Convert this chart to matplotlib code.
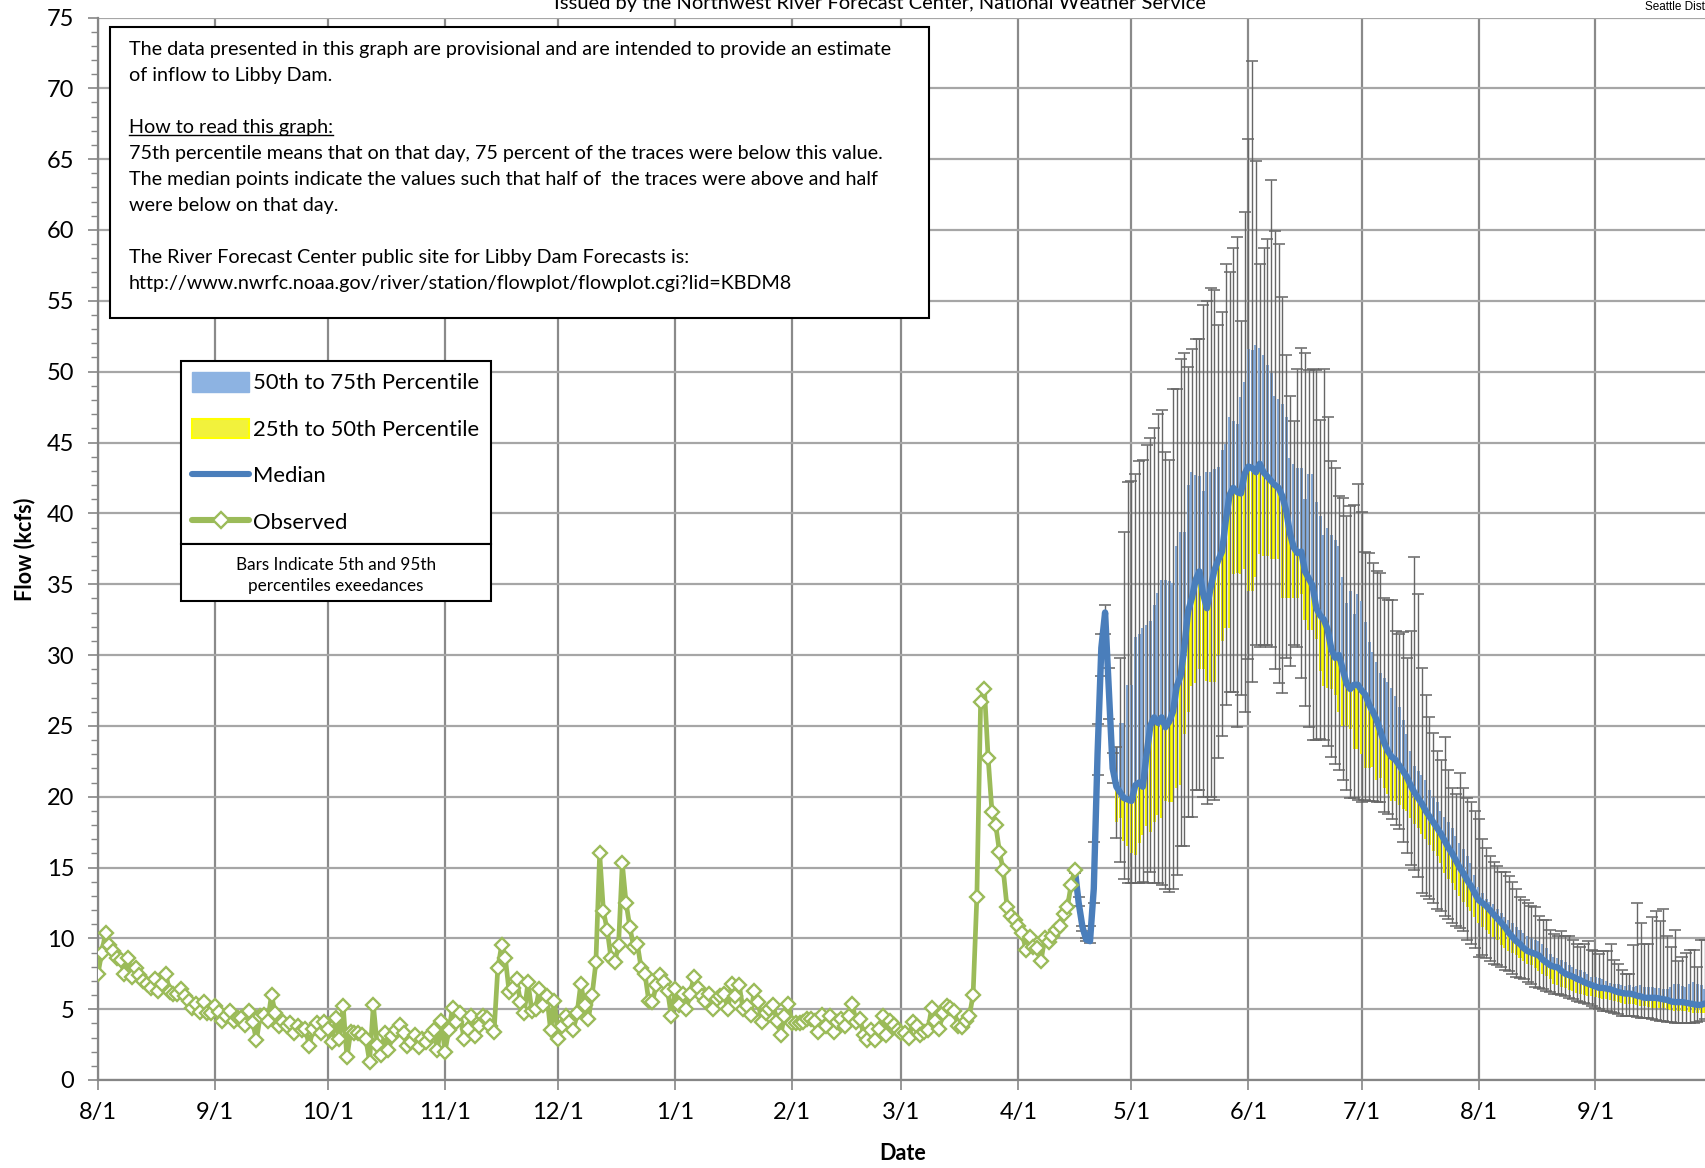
import numpy as np
import pandas as pd
import matplotlib
matplotlib.use("Agg")
import matplotlib.pyplot as plt
from matplotlib.patches import Rectangle, Patch
from matplotlib.lines import Line2D

plt.rcParams['font.family'] = ['Lato', 'DejaVu Sans']

# ---------------- data ----------------
obs_start = "2023-08-01"
observed = [
    7.5, 9.0, 10.4, 9.5, 9.1, 8.6, 8.5, 7.5, 8.6, 7.3,
    7.9, 7.4, 7.0, 6.8, 6.5, 7.1, 6.3, 6.8, 7.5, 6.2,
    6.1, 6.1, 6.4, 5.9, 5.6, 5.1, 5.4, 4.8, 5.5, 4.75,
    4.7, 5.2, 4.8, 4.2, 4.5, 4.9, 4.2, 4.4, 4.4, 3.9,
    4.9, 4.1, 2.8, 4.5, 4.6, 4.2, 6.0, 4.7, 3.8, 4.1,
    3.8, 4.0, 3.3, 3.8, 3.5, 3.6, 2.4, 3.6, 4.0, 3.3,
    4.1, 3.6, 2.7, 4.35, 2.9, 5.2, 1.6, 3.4, 3.3, 3.3,
    3.2, 2.9, 1.3, 5.3, 2.5, 1.8, 3.3, 2.1, 3.1, 3.5,
    3.9, 3.3, 2.4, 2.7, 3.2, 2.35, 2.9, 2.7, 3.2, 3.5,
    2.1, 4.2, 2.0, 3.5, 5.1, 4.1, 4.7, 2.9, 3.6, 4.5,
    3.1, 3.8, 4.5, 4.4, 3.8, 3.4, 7.9, 9.5, 8.6, 6.2,
    6.5, 7.1, 5.5, 4.75, 6.9, 4.9, 5.0, 6.4, 5.3, 5.9,
    3.5, 5.6, 2.9, 3.8, 4.5, 4.1, 3.5, 4.7, 6.8, 5.3,
    4.3, 6.0, 8.3, 16.0, 11.9, 10.6, 8.6, 8.3, 9.5, 15.3,
    12.5, 10.8, 9.4, 9.6, 7.9, 7.5, 5.6, 5.5, 6.7, 7.4,
    6.9, 6.3, 4.5, 6.4, 5.3, 6.1, 5.0, 6.1, 7.3, 6.5,
    5.9, 5.6, 6.1, 5.0, 5.75, 5.9, 6.1, 5.0, 6.8, 5.9,
    6.7, 5.0, 5.2, 4.6, 6.3, 5.5, 4.1, 4.7, 5.0, 5.3,
    4.2, 3.2, 4.5, 5.4, 4.0, 4.0, 4.0, 4.1, 4.3, 4.3,
    4.2, 3.4, 4.6, 3.8, 4.5, 3.4, 4.1, 4.3, 3.8, 4.5,
    5.35, 4.1, 4.3, 3.2, 2.8, 3.5, 2.8, 3.6, 4.5, 3.2,
    4.2, 3.9, 3.5, 3.3, 3.3, 3.0, 4.1, 3.8, 3.2, 3.4,
    3.5, 5.05, 4.2, 3.6, 4.7, 5.2, 5.05, 4.9, 3.8, 3.75,
    4.2, 4.5, 6.0, 12.9, 26.7, 27.6, 22.7, 18.95, 18.0, 16.1,
    14.8, 12.2, 11.6, 11.3, 10.9, 10.4, 9.2, 10.1, 9.4, 9.3,
    8.4, 10.0, 9.75, 10.2, 10.6, 10.9, 11.7, 12.2, 13.8, 14.85,
]

fc_start = "2024-04-16"
median = [
    14.8, 12.5, 10.8, 9.9, 9.8, 13.5, 23.0, 30.5, 33.0, 27.5, 22.0,
    20.7, 20.3, 19.9, 19.8, 19.7, 20.8, 21.0, 20.7, 23.0, 25.0,
    25.6, 25.2, 25.6, 24.9, 25.3, 26.0, 27.8, 28.5, 30.5, 33.1,
    34.0, 35.3, 35.9, 34.3, 33.3, 34.8, 36.0, 36.7, 37.3, 39.5,
    41.3, 41.8, 41.5, 41.4, 42.8, 43.3, 43.2, 42.9, 43.5, 42.9,
    42.6, 42.3, 42.0, 41.8, 41.2, 40.2, 38.6, 37.6, 37.2, 37.3,
    35.9, 35.4, 34.9, 33.3, 32.8, 32.5, 31.8, 30.4, 29.8, 30.0,
    29.0, 28.0, 27.6, 27.9, 27.9, 27.5, 27.2, 26.5, 26.0, 25.4,
    24.6, 23.8, 23.2, 22.8, 22.6, 22.2, 21.8, 21.4, 20.8,
    20.3, 19.9, 19.5, 19.0, 18.6, 18.2, 17.8, 17.4, 16.9, 16.4,
    16.0, 15.5, 15.0, 14.6, 14.1, 13.7, 13.2, 12.7, 12.5, 12.3,
    12.0, 11.7, 11.4, 11.1, 10.8, 10.4, 10.1, 9.8, 9.6, 9.3,
    9.1, 9.0, 8.9, 8.8, 8.5, 8.3, 8.1, 8.0, 7.95, 7.7,
    7.5, 7.4, 7.3, 7.15, 7.05, 6.9, 6.8, 6.7, 6.6, 6.5,
    6.5, 6.45, 6.4, 6.3, 6.2, 6.15, 6.1, 6.1, 6.05, 5.95,
    5.9, 5.8, 5.8, 5.8, 5.8, 5.75, 5.7, 5.65, 5.55, 5.5,
    5.5, 5.5, 5.45, 5.4, 5.35, 5.3, 5.3, 5.4,
]
nan = float('nan')
p75 = [nan] * 11 + [
    23.5, 25.2, 25.2, 27.9, 27.9, 31.3, 31.5, 31.9, 32.1, 32.4,
    33.5, 34.4, 35.3, 35.3, 35.2, 35.1, 37.7, 38.7, 38.7, 42.0,
    42.9, 42.7, 42.6, 41.6, 42.9, 42.9, 43.1, 43.3, 44.5, 44.9,
    46.8, 46.5, 46.3, 48.2, 49.3, 51.6, 51.5, 51.9, 51.7, 51.2,
    50.5, 49.9, 48.3, 48.1, 47.7, 46.8, 43.9, 43.5, 43.2, 43.2,
    41.0, 42.8, 42.8, 40.8, 39.8, 38.5, 39.0, 38.5, 38.1, 37.7,
    35.5, 33.7, 34.5, 32.9, 34.3, 33.8, 32.3, 30.9, 30.2, 29.5,
    28.7, 28.4, 28.1, 27.7, 27.1, 26.3, 25.4, 24.4, 23.2,
    22.2, 21.8, 21.5, 21.2, 20.5, 20.0, 19.6, 19.0, 18.6, 18.2,
    17.8, 17.2, 16.7, 16.3, 15.8, 15.3, 14.5, 13.6, 13.2, 12.8,
    12.6, 12.4, 12.1, 11.8, 11.5, 11.3, 11.1, 10.8, 10.6, 10.4,
    10.2, 10.0, 9.9, 9.8, 9.6, 9.3, 8.9, 8.7, 8.6, 8.5,
    8.3, 8.1, 8.0, 7.85, 7.75, 7.6, 7.45, 7.3, 7.25, 7.2,
    7.1, 7.0, 6.85, 6.8, 6.75, 6.7, 6.65, 6.7, 6.6, 6.65,
    6.7, 6.6, 6.55, 6.6, 6.5, 6.5, 6.45, 6.4, 6.6, 6.75,
    6.8, 6.65, 6.6, 6.75, 6.9, 6.8, 6.7, 6.4,
]
p25 = [nan] * 11 + [
    18.2, 18.5, 16.9, 16.5, 16.0, 15.9, 16.7, 17.3, 17.9, 17.5,
    18.2, 18.7, 18.5, 19.7, 19.6, 19.6, 20.6, 20.8, 24.4, 26.0,
    27.8, 28.0, 29.0, 29.0, 28.2, 28.1, 28.1, 30.0, 31.0, 31.9,
    31.9, 35.7, 35.8, 35.7, 36.1, 34.5, 34.5, 35.5, 37.1, 37.0,
    37.0, 36.8, 36.8, 36.8, 34.0, 34.0, 34.0, 34.0, 34.0, 34.3,
    32.5, 31.8, 31.8, 31.1, 28.9, 27.8, 27.7, 27.6, 27.2, 26.0,
    25.0, 25.0, 24.8, 23.4, 23.4, 23.0, 22.0, 22.0, 22.1, 21.2,
    21.3, 20.6, 20.2, 19.7, 19.7, 19.4, 19.1, 19.0, 18.5,
    18.1, 17.8, 17.4, 17.0, 16.6, 16.2, 15.8, 15.3, 14.6, 14.2,
    13.9, 13.4, 13.0, 12.6, 12.2, 11.9, 11.5, 11.1, 10.8, 10.6,
    10.3, 10.1, 9.9, 9.5, 9.3, 9.1, 9.0, 8.8, 8.6, 8.4,
    8.2, 8.1, 7.9, 7.7, 7.5, 7.35, 7.1, 6.8, 6.7, 6.6,
    6.5, 6.35, 6.25, 6.15, 6.1, 6.0, 5.95, 5.9, 5.85, 5.8,
    5.75, 5.7, 5.65, 5.6, 5.5, 5.45, 5.4, 5.4, 5.35, 5.3,
    5.25, 5.2, 5.15, 5.1, 5.1, 5.1, 5.05, 5.0, 4.95, 4.9,
    4.9, 4.85, 4.85, 4.8, 4.75, 4.7, 4.7, 4.7,
]
p95 = [
    15.0, 12.9, 10.9, 10.0, 10.85, 16.8, 25.1, 31.5, 33.5, 29.1, 23.1,
    23.5, 29.8, 38.7, 42.2, 42.3, 42.8, 43.7, 43.8, 44.8, 45.3,
    46.0, 47.0, 47.3, 44.3, 43.8, 48.8, 48.8, 50.9, 51.3, 50.3,
    51.6, 52.3, 52.3, 54.7, 55.0, 55.9, 55.8, 53.3, 54.2, 57.6,
    57.0, 58.7, 59.5, 53.6, 61.3, 66.4, 71.9, 64.9, 57.6, 58.7,
    59.4, 63.5, 59.9, 59.0, 55.3, 51.2, 48.3, 46.5, 50.2, 51.7,
    51.3, 50.1, 50.2, 50.1, 46.6, 50.2, 46.8, 43.7, 43.2, 41.2,
    41.1, 39.8, 40.5, 40.6, 42.1, 40.1, 37.3, 37.2, 36.5, 35.9,
    35.8, 34.0, 33.9, 33.9, 31.7, 31.5, 31.6, 29.8, 31.7,
    36.9, 34.3, 29.1, 27.2, 25.6, 24.5, 23.2, 22.6, 24.2, 21.9,
    20.6, 20.2, 21.7, 20.6, 19.9, 19.6, 19.0, 18.4, 17.0, 16.4,
    15.8, 15.4, 15.1, 14.7, 14.7, 14.4, 14.0, 13.5, 12.9, 12.7,
    12.5, 12.3, 12.2, 11.6, 11.3, 11.3, 10.6, 10.3, 10.2, 10.5,
    10.2, 10.2, 9.9, 9.6, 9.4, 9.6, 9.8, 9.2, 9.1, 8.9,
    9.1, 9.1, 9.6, 8.5, 8.2, 7.8, 7.5, 7.5, 9.5, 12.5,
    11.1, 9.6, 9.6, 11.5, 11.9, 11.2, 12.1, 10.2, 9.4, 10.6,
    8.4, 8.7, 9.0, 9.2, 9.2, 8.0, 9.9, 9.9,
]
p5 = [
    14.6, 12.3, 10.5, 9.8, 9.7, 12.5, 21.5, 28.5, 31.5, 25.5, 21.0,
    17.1, 15.4, 14.2, 13.9, 13.9, 13.9, 13.9, 13.95, 13.9, 14.7,
    13.9, 13.9, 13.8, 13.5, 13.3, 13.5, 14.5, 16.5, 16.5, 18.6,
    18.6, 20.5, 20.5, 20.0, 19.5, 20.0, 19.8, 22.7, 24.3, 26.5,
    27.4, 27.4, 24.9, 27.2, 26.0, 29.7, 28.1, 30.7, 30.6, 30.7,
    30.7, 30.6, 29.0, 28.0, 27.3, 29.8, 29.2, 30.7, 30.6, 28.4,
    26.4, 24.9, 24.0, 24.0, 24.1, 24.0, 23.6, 22.8, 22.3, 21.9,
    21.2, 20.5, 19.9, 19.9, 19.8, 19.6, 19.8, 19.7, 19.7, 19.6,
    19.6, 18.9, 18.8, 18.4, 18.0, 17.7, 16.8, 16.0, 15.2,
    14.8, 14.3, 13.2, 13.0, 12.8, 12.5, 12.1, 11.9, 11.6, 11.4,
    11.1, 10.9, 10.7, 10.5, 9.9, 9.6, 9.3, 8.7, 8.8, 8.6,
    8.4, 8.2, 8.1, 8.0, 7.8, 7.7, 7.5, 7.3, 7.2, 7.1,
    6.9, 6.8, 6.6, 6.5, 6.4, 6.3, 6.2, 6.1, 6.05, 6.0,
    5.9, 5.8, 5.7, 5.6, 5.5, 5.45, 5.35, 5.2, 5.1, 5.0,
    4.9, 4.85, 4.8, 4.7, 4.65, 4.55, 4.5, 4.5, 4.5, 4.45,
    4.4, 4.4, 4.35, 4.3, 4.25, 4.2, 4.15, 4.1, 4.1, 4.05,
    4.0, 4.0, 4.0, 4.0, 4.05, 4.1, 4.2, 4.3,
]

tick_dates = ["2023-08-01", "2023-09-01", "2023-10-01", "2023-11-01", "2023-12-01",
              "2024-01-01", "2024-02-01", "2024-03-01", "2024-04-01", "2024-05-01",
              "2024-06-01", "2024-07-01", "2024-08-01", "2024-09-01"]
tick_labels = ["8/1", "9/1", "10/1", "11/1", "12/1", "1/1", "2/1", "3/1",
               "4/1", "5/1", "6/1", "7/1", "8/1", "9/1"]

title = "Issued by the Northwest River Forecast Center, National Weather Service"
info_lines = [
    "The data presented in this graph are provisional and are intended to provide an estimate",
    "of inflow to Libby Dam.",
    "",
    "How to read this graph:",
    "75th percentile means that on that day, 75 percent of the traces were below this value.",
    "The median points indicate the values such that half of  the traces were above and half",
    "were below on that day.",
    "",
    "The River Forecast Center public site for Libby Dam Forecasts is:",
    "http://www.nwrfc.noaa.gov/river/station/flowplot/flowplot.cgi?lid=KBDM8",
]
legend_labels = ["50th to 75th Percentile", "25th to 50th Percentile", "Median", "Observed"]
note_text = "Bars Indicate 5th and 95th\npercentiles exeedances"

# ---------------- figure ----------------
W, H = 1706, 1168
fig = plt.figure(figsize=(W / 100, H / 100), dpi=100)

def fx(px):
    return px / W

def fy(py):
    return 1 - py / H

x_left, x_right = 98, 1708.6
y_top, y_bot = 17.5, 1080
ax = fig.add_axes([fx(x_left), fy(y_bot), fx(x_right - x_left), (y_bot - y_top) / H])

obs_x = pd.date_range(obs_start, periods=len(observed), freq="D")
fc_x = pd.date_range(fc_start, periods=len(median), freq="D")
med = np.array(median)
lo25 = np.array(p25)
hi75 = np.array(p75)
lo5 = np.array(p5)
hi95 = np.array(p95)

ax.set_xlim(pd.Timestamp("2023-08-01"), pd.Timestamp("2024-10-01"))
ax.set_ylim(0, 75)

grid_v = "#8a8a8a"
grid_h = "#a6a6a6"
ax.set_axisbelow(True)
ax.xaxis.grid(True, color=grid_v, lw=1.6)
ax.yaxis.grid(True, color=grid_h, lw=1.6)

mask = ~np.isnan(lo25)
bar_w = 0.8
ax.bar(fc_x[mask], (med - lo25)[mask], bottom=lo25[mask], width=bar_w,
       color="#FFFF00", linewidth=0, zorder=2)
ax.bar(fc_x[mask], (hi75 - med)[mask], bottom=med[mask], width=bar_w,
       color="#86AEE0", linewidth=0, zorder=2)

ax.errorbar(fc_x, med, yerr=[med - lo5, hi95 - med], fmt="none",
            ecolor="#666666", elinewidth=1.0, capsize=4.5, capthick=1.1, zorder=3)

ax.plot(fc_x, med, color="#4A7EBB", lw=4.6, solid_capstyle="round",
        solid_joinstyle="round", zorder=4)
ax.plot(obs_x, observed, color="#9BBB59", lw=3.4, marker="D", markersize=6.8,
        markerfacecolor="white", markeredgecolor="#9BBB59", markeredgewidth=1.7,
        zorder=5)

ax.set_xticks([pd.Timestamp(d) for d in tick_dates])
ax.set_xticklabels(tick_labels)
ax.set_yticks(np.arange(0, 76, 5))
ax.set_yticks(np.arange(0, 76, 1), minor=True)
ax.tick_params(axis="both", which="major", labelsize=17, color="#868686",
               length=7, width=1.2, direction="out")
ax.tick_params(axis="x", pad=9)
ax.tick_params(axis="y", pad=10)
ax.tick_params(axis="y", which="minor", length=5, width=1.0, color="#868686")
ax.tick_params(axis="x", which="minor", length=0)
for s in ["top", "right"]:
    ax.spines[s].set_visible(False)
for s in ["left", "bottom"]:
    ax.spines[s].set_color("#868686")
    ax.spines[s].set_linewidth(1.6)

# axis titles
fig.text(fx(25), fy(549), "Flow (kcfs)", rotation=90, ha="center", va="center",
         fontsize=15.5, fontweight="bold")
fig.text(fx(903), fy(1153), "Date", ha="center", va="center",
         fontsize=15.5, fontweight="bold")

# header texts, clipped by the top edge as in the source image
fig.text(fx(880), fy(9), title, ha="center", va="baseline", fontsize=14.5)
fig.text(fx(1645), fy(10), "Seattle District", ha="left", va="baseline",
         fontsize=8.5, family=["Liberation Sans", "DejaVu Sans"])

# info box
fig.add_artist(Rectangle((fx(110), fy(318)), fx(929 - 110), (318 - 27) / H,
                         transform=fig.transFigure, facecolor="white",
                         edgecolor="black", lw=1.5, zorder=10))
line_y = [50, 76, None, 128, 154, 179, 206, None, 258, 284]
txt_objs = []
for s, yy in zip(info_lines, line_y):
    if yy is None:
        continue
    t = fig.text(fx(129), fy(yy), s, ha="left", va="center", fontsize=14.2, zorder=11)
    txt_objs.append((s, t))

# legend
handles = [
    Patch(facecolor="#8DB3E2", edgecolor="#8DB3E2"),
    Patch(facecolor="#F2F23C", edgecolor="#FFFF00", lw=1.5),
    Line2D([], [], color="#4A7EBB", lw=4.4, solid_capstyle="round"),
    Line2D([], [], color="#9BBB59", lw=4.4, marker="D", markersize=8.5,
           markerfacecolor="white", markeredgecolor="#9BBB59", markeredgewidth=1.7,
           solid_capstyle="round"),
]
leg = ax.legend(handles, legend_labels, loc="upper left",
                bbox_to_anchor=(fx(181), fy(361)), bbox_transform=fig.transFigure,
                fontsize=15.8, frameon=True, fancybox=False, framealpha=1,
                edgecolor="black", borderaxespad=0, borderpad=0.5,
                labelspacing=1.15, handlelength=2.6, handleheight=1.0,
                handletextpad=0.2)
leg.get_frame().set_linewidth(1.5)
leg.set_zorder(12)

fig.canvas.draw()
r = fig.canvas.get_renderer()

# underline "How to read this graph:"
for s, t in txt_objs:
    if s.startswith("How to read"):
        bb = t.get_window_extent(r)
        fig.add_artist(Line2D([bb.x0 / W, bb.x1 / W], [(bb.y0 + 2) / H, (bb.y0 + 2) / H],
                              transform=fig.transFigure, color="black", lw=1.0, zorder=11))

# note box directly below the legend, same width
lb = leg.get_window_extent(r)
note_h = 57
fig.add_artist(Rectangle((lb.x0 / W, (lb.y0 - note_h) / H), (lb.x1 - lb.x0) / W, note_h / H,
                         transform=fig.transFigure, facecolor="white",
                         edgecolor="black", lw=1.5, zorder=12))
fig.text((lb.x0 + lb.x1) / 2 / W, (lb.y0 - note_h / 2 - 3) / H, note_text,
         ha="center", va="center", fontsize=12.3, linespacing=1.45, zorder=13)

fig.savefig("out.png", dpi=100)
